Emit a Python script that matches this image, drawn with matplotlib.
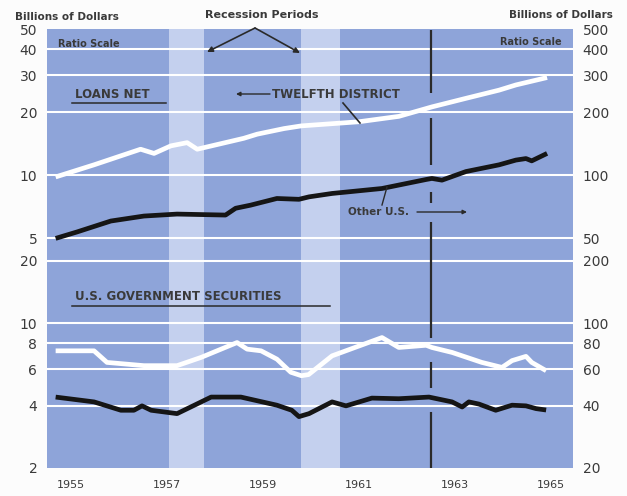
import numpy as np
import matplotlib.pyplot as plt
import matplotlib.transforms as mtransforms
from matplotlib.lines import Line2D
from matplotlib.ticker import NullLocator

# Twelfth District, billions (left scale)
dist_loans_yr = [1955.18, 1955.98, 1956.95, 1957.23, 1957.58, 1957.92, 1958.13, 1959.10, 1959.38, 1959.94,
                 1960.30, 1961.50, 1962.33, 1963.02, 1963.73, 1964.42, 1964.77, 1965.42]
dist_loans = [9.8, 11.2, 13.3, 12.7, 13.8, 14.3, 13.3, 15.0, 15.7, 16.7,
              17.2, 18.0, 19.1, 21.2, 23.3, 25.5, 27.0, 29.3]

# Other U.S., billions (right scale)
us_loans_yr = [1955.18, 1955.63, 1956.33, 1957.02, 1957.71, 1958.72, 1958.93, 1959.24, 1959.79, 1960.25,
               1960.46, 1960.94, 1961.98, 1962.90, 1963.02, 1963.23, 1963.73, 1964.42, 1964.77, 1964.98,
               1965.10, 1965.42]
us_loans = [49.8, 53.5, 60.3, 63.7, 65.1, 64.4, 69.4, 71.8, 77.3, 76.6,
            78.7, 81.7, 86.3, 95.3, 96.4, 94.6, 104, 112, 118, 120,
            117, 127]

dist_govt_yr = [1955.18, 1955.98, 1956.25, 1957.02, 1957.71, 1958.21, 1958.96, 1959.17, 1959.46, 1959.79,
                1960.08, 1960.30, 1960.45, 1960.94, 1961.98, 1962.33, 1962.90, 1963.02, 1963.44, 1964.06,
                1964.48, 1964.69, 1964.98, 1965.10, 1965.40]
dist_govt = [7.36, 7.36, 6.47, 6.24, 6.24, 6.84, 8.07, 7.50, 7.36, 6.71,
             5.80, 5.58, 5.65, 6.96, 8.53, 7.64, 7.83, 7.64, 7.23, 6.47,
             6.12, 6.60, 6.92, 6.47, 5.90]

us_govt_yr = [1955.18, 1955.98, 1956.54, 1956.81, 1956.98, 1957.17, 1957.71, 1958.42, 1959.04, 1959.79,
              1960.10, 1960.25, 1960.46, 1960.94, 1961.23, 1961.77, 1962.33, 1962.96, 1963.44, 1963.65,
              1963.79, 1964.00, 1964.35, 1964.69, 1964.98, 1965.19, 1965.40]
us_govt = [44.0, 41.7, 38.0, 38.0, 39.9, 38.0, 36.6, 44.0, 44.0, 40.2,
           38.0, 35.4, 36.6, 41.7, 39.9, 43.5, 43.2, 44.0, 41.7, 39.4,
           41.7, 40.7, 38.0, 40.2, 39.9, 38.7, 38.1]

recessions = [(1957.54, 1958.27), (1960.30, 1961.10)]
year_ticks = [1955.5, 1957.5, 1959.5, 1961.5, 1963.5, 1965.5]
year_labels = ['1955', '1957', '1959', '1961', '1963', '1965']
top_left = [5, 10, 20, 30, 40, 50]
top_right = [50, 100, 200, 300, 400, 500]
bot_left = [2, 4, 6, 8, 10, 20]
bot_right = [20, 40, 60, 80, 100, 200]

plt.rcParams['lines.scale_dashes'] = False

W, H = 627, 496
fig = plt.figure(figsize=(W/100, H/100), dpi=100)
fig.patch.set_facecolor('#fcfcfc')

def fp(x, y):
  return (x/W, 1 - y/H)

ax1 = fig.add_axes([47/W, 1 - 248/H, 526/W, 219/H])
ax2 = fig.add_axes([47/W, 1 - 468/H, 526/W, 220/H])
txtc = '#3a3a3a'

def panel(ax, lo, hi, lticks, rticks, grid):
  ax.set_yscale('log')
  ax.set_ylim(lo, hi)
  ax.set_xlim(1955, 1965.96)
  ax.set_facecolor('#8ea4d9')
  for a, b in recessions:
    ax.axvspan(a, b, color='#c4d0ee', lw=0, zorder=0.5)
  for g in grid:
    ax.axhline(g, color='white', lw=1.5, zorder=1)
  ax.set_yticks(lticks, [str(t) for t in lticks])
  ax.yaxis.set_minor_locator(NullLocator())
  ax.tick_params(length=0, labelsize=10, labelcolor=txtc, pad=7)
  axr = ax.twinx()
  axr.set_yscale('log')
  axr.set_ylim(lo*10, hi*10)
  axr.set_yticks(rticks, [str(t) for t in rticks])
  axr.yaxis.set_minor_locator(NullLocator())
  axr.tick_params(length=0, labelsize=10, labelcolor=txtc, pad=7)
  for a in (ax, axr):
    for s in a.spines.values():
      s.set_visible(False)
  return axr

ax1r = panel(ax1, 4.48, 50.01, top_left, top_right, [5, 10, 20, 30, 40])
ax2r = panel(ax2, 1.999, 23.1, bot_left, bot_right, [4, 6, 8, 10, 20])
ax1.set_xticks([])
ax2.set_xticks(year_ticks, year_labels)
ax2.tick_params(axis='x', labelsize=8, pad=9)

ax1.plot(dist_loans_yr, dist_loans, color='white', lw=3.4, zorder=3, solid_capstyle='butt')
ax1r.plot(us_loans_yr, us_loans, color='#151515', lw=3.4, zorder=3, solid_capstyle='butt')
ax2.plot(dist_govt_yr, dist_govt, color='white', lw=3.4, zorder=3, solid_capstyle='butt')
ax2r.plot(us_govt_yr, us_govt, color='#151515', lw=3.4, zorder=3, solid_capstyle='butt')

# dashed marker line at start of 1963, across both panels
tr = mtransforms.blended_transform_factory(ax1.transData, fig.transFigure)
dash_px = [63, 25, 47, 27, 11, 19, 116, 24, 26, 24, 58, 10]
vl = Line2D([1963.0, 1963.0], [1 - 30/H, 1 - 468/H], transform=tr, color='#2a2a2a', lw=1.6,
            dashes=[d/1.389 for d in dash_px])
fig.add_artist(vl)

bold = dict(weight='bold', color=txtc, va='center')
fig.text(*fp(15, 17), 'Billions of Dollars', fontsize=7.5, ha='left', **bold)
fig.text(*fp(613, 15), 'Billions of Dollars', fontsize=7.5, ha='right', **bold)
fig.text(*fp(262, 15), 'Recession Periods', fontsize=8, ha='center', **bold)
for tip in [(207, 52), (300, 53)]:
  fig.add_artist(plt.Annotation('', xy=fp(*tip), xytext=fp(255, 28), xycoords='figure fraction',
                                arrowprops=dict(arrowstyle='-|>', color='#2a2a2a', lw=1.2,
                                                mutation_scale=8, shrinkA=0, shrinkB=0)))

fig.text(*fp(58, 44), 'Ratio Scale', fontsize=7, ha='left', **bold)
fig.text(*fp(562, 42), 'Ratio Scale', fontsize=7, ha='right', **bold)
fig.text(*fp(75, 95), 'LOANS NET', fontsize=8.5, ha='left', **bold)
fig.add_artist(Line2D([72/W, 166/W], [1 - 103/H]*2, color='#2a2a2a', lw=1.1))
fig.text(*fp(272, 94), 'TWELFTH DISTRICT', fontsize=8.5, ha='left', **bold)
fig.add_artist(plt.Annotation('', xy=fp(236, 94), xytext=fp(270, 94), xycoords='figure fraction',
                              arrowprops=dict(arrowstyle='-|>', color='#2a2a2a', lw=1.0,
                                              mutation_scale=6, shrinkA=0, shrinkB=0)))
fig.add_artist(Line2D([343/W, 360/W], [1 - 103/H, 1 - 123/H], color='#2a2a2a', lw=1.2))
fig.text(*fp(348, 212), 'Other U.S.', fontsize=7.5, ha='left', **bold)
fig.add_artist(plt.Annotation('', xy=fp(467, 212), xytext=fp(417, 212), xycoords='figure fraction',
                              arrowprops=dict(arrowstyle='-|>', color='#2a2a2a', lw=1.0,
                                              mutation_scale=6, shrinkA=0, shrinkB=0)))
fig.add_artist(Line2D([382/W, 387/W], [1 - 205/H, 1 - 187/H], color='#2a2a2a', lw=1.0))
fig.text(*fp(75, 297), 'U.S. GOVERNMENT SECURITIES', fontsize=8.5, ha='left', **bold)
fig.add_artist(Line2D([72/W, 330/W], [1 - 306/H]*2, color='#2a2a2a', lw=1.1))

fig.savefig('out.png', dpi=100, facecolor=fig.get_facecolor())
